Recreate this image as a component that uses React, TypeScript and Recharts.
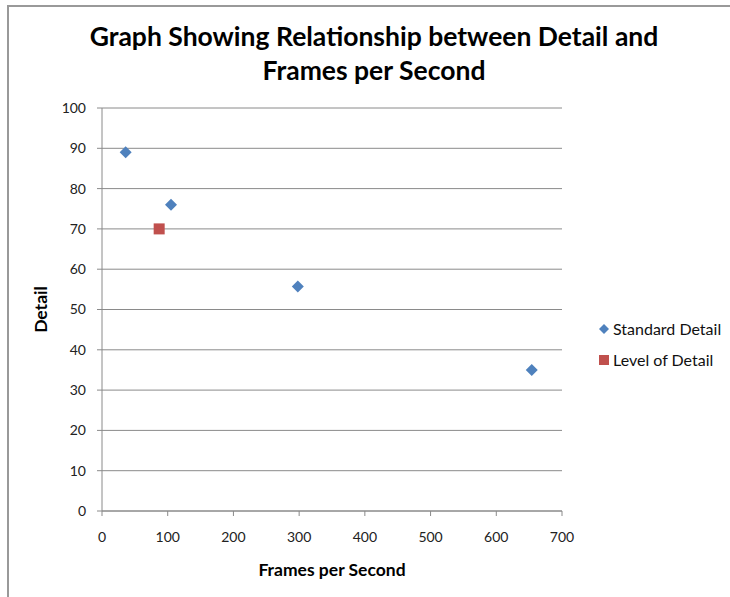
import React from 'react';
import { ScatterChart, Scatter, XAxis, YAxis, CartesianGrid, Legend, Label } from 'recharts';

const standardFps = [36, 105, 298, 654];
const standardDetail = [89, 76, 55.7, 35];
const lodFps = [87];
const lodDetail = [70];
const xTicks = [0, 100, 200, 300, 400, 500, 600, 700];
const yTicks = [0, 10, 20, 30, 40, 50, 60, 70, 80, 90, 100];
const seriesNames = ['Standard Detail', 'Level of Detail'];
const titleLines = ['Graph Showing Relationship between Detail and', 'Frames per Second'];

const standardData = standardFps.map((x, i) => ({ x, y: standardDetail[i] }));
const lodData = lodFps.map((x, i) => ({ x, y: lodDetail[i] }));

const BLUE = '#4F81BD';
const RED = '#C0504D';
const GRID = '#8a8a8a';
const FONT = 'Lato, "Liberation Sans", sans-serif';

const Diamond = (props: any) => {
  const { cx, cy } = props;
  const r = 6;
  return <polygon points={`${cx},${cy - r} ${cx + r},${cy} ${cx},${cy + r} ${cx - r},${cy}`} fill={BLUE} />;
};

const Square = (props: any) => {
  const { cx, cy } = props;
  const s = 11;
  return <rect x={cx - s / 2} y={cy - s / 2} width={s} height={s} fill={RED} />;
};

const LegendContent = () => (
  <div style={{ fontFamily: FONT, fontSize: 16, color: '#111', whiteSpace: 'nowrap' }}>
    <div style={{ display: 'flex', alignItems: 'center', height: 31 }}>
      <svg width={12} height={12} style={{ marginRight: 3 }}>
        <polygon points="6,1 11,6 6,11 1,6" fill={BLUE} />
      </svg>
      <span>{seriesNames[0]}</span>
    </div>
    <div style={{ display: 'flex', alignItems: 'center', height: 31 }}>
      <svg width={12} height={12} style={{ marginRight: 3 }}>
        <rect x={1} y={1} width={10} height={10} fill={RED} />
      </svg>
      <span>{seriesNames[1]}</span>
    </div>
  </div>
);

export default function App() {
  return (
    <div style={{ position: 'absolute', left: 0, top: 0, width: 730, height: 597, background: '#fff', overflow: 'hidden' }}>
      <div style={{ position: 'absolute', left: 7, top: 5, width: 740, height: 600, borderLeft: '2px solid #999', borderTop: '2px solid #999' }} />
      <div
        style={{
          position: 'absolute',
          left: 0,
          width: 748,
          top: 19,
          textAlign: 'center',
          fontFamily: FONT,
          fontWeight: 700,
          fontSize: 26.5,
          lineHeight: '34px',
          color: '#000',
          whiteSpace: 'nowrap',
        }}
      >
        <div>{titleLines[0]}</div>
        <div>{titleLines[1]}</div>
      </div>
      <div style={{ position: 'absolute', left: 0, top: 0 }}>
        <ScatterChart width={730} height={597} margin={{ top: 108, right: 168, bottom: 56, left: 42 }}>
          <CartesianGrid horizontal vertical={false} stroke={GRID} strokeWidth={1} />
          <XAxis
            type="number"
            dataKey="x"
            domain={[0, 700]}
            ticks={xTicks}
            interval={0}
            height={30}
            stroke={GRID}
            tickSize={5}
            tickMargin={16}
            tick={{ fill: '#222', fontSize: 14, fontFamily: FONT }}
          >
            <Label value="Frames per Second" position="bottom" offset={23} style={{ fontFamily: FONT, fontWeight: 700, fontSize: 17.5, fill: '#000' }} />
          </XAxis>
          <YAxis
            type="number"
            dataKey="y"
            domain={[0, 100]}
            ticks={yTicks}
            interval={0}
            width={60}
            stroke={GRID}
            tickSize={5}
            tickMargin={11}
            tick={{ fill: '#222', fontSize: 14, fontFamily: FONT }}
          >
            <Label value="Detail" angle={-90} position="center" dx={-31} style={{ fontFamily: FONT, fontWeight: 700, fontSize: 17.5, fill: '#000' }} />
          </YAxis>
          <Legend
            layout="vertical"
            align="center"
            verticalAlign="middle"
            content={<LegendContent />}
            wrapperStyle={{ left: 598, top: 313, width: 132, height: 62 }}
          />
          <Scatter name={seriesNames[0]} data={standardData} shape={<Diamond />} isAnimationActive={false} />
          <Scatter name={seriesNames[1]} data={lodData} shape={<Square />} isAnimationActive={false} />
        </ScatterChart>
      </div>
    </div>
  );
}
